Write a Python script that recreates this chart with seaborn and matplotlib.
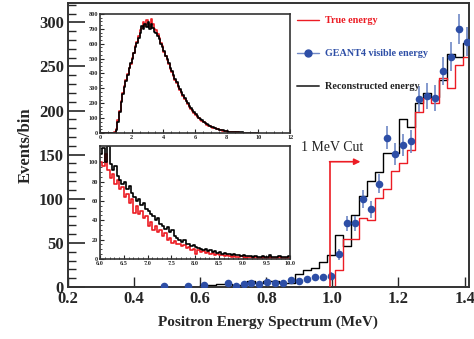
import numpy as np
import matplotlib.pyplot as plt
import seaborn as sns
from matplotlib.lines import Line2D
from matplotlib.ticker import MultipleLocator, FormatStrFormatter

sns.set_style("ticks")
plt.rcParams["font.family"] = ["Liberation Serif", "DejaVu Serif"]
plt.rcParams["font.weight"] = "bold"
plt.rcParams["axes.labelweight"] = "bold"

RED = "#ec1c24"
BLUE = "#2d4ea6"
BLUE_ERR = "#7089c6"

# ---- main spectrum, bins of ~0.024 MeV (first 12 bins below 0.478 are empty)
bin_start = 0.1888
bin_width = 0.0241
n_empty = 12

true_energy = [0, 0, 0, 0, 0, 0, 0, 0, 0, 0, 0, 0, 0, 0, 0, 0, 0, 0, 0, 0,
               0, 0, 19, 54, 54, 78, 76, 101, 111, 131, 141, 155, 198, 214,
               208, 237, 226, 252, 261]
reco_energy = [0, 0, 0, 0, 0, 2, 2, 3, 3, 2, 2, 7, 4, 7, 7, 4, 4, 15, 19, 22,
               28, 36, 59, 47, 82, 103, 120, 130, 152, 152, 190, 181, 209, 220,
               215, 235, 264, 261, 277]
geant4 = [1, np.nan, np.nan, 1, np.nan, 2, np.nan, np.nan, 5, 1, 3, 4, 3, 6,
          5, 5, 8, 7, 9, 11, 11, 13, 37, 72, 72, 100, 88, 117, 169, 151, 161,
          165, 213, 217, 214, 245, 261, 292, 278]
geant4_err = [1, 0, 0, 1, 0, 1.4, 0, 0, 2.2, 1, 1.7, 2, 1.7, 2.4, 2.2, 2.2,
              2.8, 2.6, 3, 3.3, 3.3, 3.6, 6, 8.5, 8.5, 10, 9.4, 10.8, 13, 12.3,
              12.7, 12.8, 14.6, 14.7, 14.6, 15.7, 16.2, 17.1, 16.7]

# ---- inset 1: full spectrum 0-12 MeV, 0.1 MeV bins
full_true = [0, 0, 0, 0, 0, 0, 0, 0, 0, 4, 25, 85, 150, 215, 270, 315, 355,
             395, 440, 465, 505, 540, 585, 610, 655, 690, 705, 745, 720, 760,
             735, 715, 765, 730, 700, 690, 665, 640, 605, 585, 545, 520, 490,
             465, 430, 410, 380, 355, 335, 310, 290, 270, 250, 230, 212, 195,
             178, 163, 148, 135, 122, 110, 100, 90, 80, 72, 64, 57, 50, 45, 40,
             35, 31, 27, 24, 21, 18, 16, 14, 12, 10, 9, 8, 7, 6, 5, 4, 4, 3, 3,
             2, 2, 2, 2, 1, 1, 1, 1, 1, 1]
full_reco = [0, 0, 0, 0, 0, 0, 0, 0, 0, 2, 18, 75, 140, 210, 265, 310, 350,
             390, 435, 470, 500, 535, 575, 605, 640, 675, 720, 700, 735, 715,
             745, 700, 735, 705, 680, 675, 655, 630, 600, 580, 550, 520, 495,
             470, 440, 415, 390, 362, 340, 318, 296, 276, 256, 236, 218, 200,
             184, 168, 153, 140, 127, 115, 104, 94, 85, 76, 68, 61, 54, 48, 43,
             38, 34, 30, 26, 23, 20, 18, 16, 14, 12, 10, 9, 8, 7, 6, 5, 5, 4, 4,
             3, 3, 2, 2, 2, 2, 1, 1, 1, 1]

# ---- inset 2: tail 6-10 MeV, 0.05 MeV bins
tail_true = [100, 96, 108, 92, 84, 88, 78, 82, 72, 74, 64, 67, 58, 62, 48, 55,
             46, 50, 42, 44, 34, 38, 30, 34, 28, 30, 24, 27, 20, 22, 17, 19, 15,
             16, 13, 14, 11, 12, 9, 10, 5, 9, 7, 8, 6, 7, 5, 6, 4, 5, 4, 4, 3, 4,
             3, 2, 3, 2, 2, 3, 2, 1, 2, 2, 1, 2, 1, 1, 2, 1, 1, 2, 1, 1, 1, 2, 1,
             1, 1, 2]
tail_reco = [108, 115, 100, 117, 98, 92, 96, 86, 82, 78, 80, 72, 75, 68, 64, 60,
             62, 56, 58, 52, 50, 46, 44, 40, 42, 36, 34, 31, 33, 28, 30, 24, 22,
             20, 18, 20, 15, 16, 13, 14, 12, 11, 10, 9, 10, 8, 9, 7, 8, 6, 7, 5,
             6, 5, 5, 4, 5, 4, 4, 3, 4, 3, 3, 3, 2, 3, 2, 2, 3, 2, 2, 4, 2, 2, 2,
             3, 2, 2, 2, 3]


def step_hist(ax, values, start, width, color, lw=1.0):
    values = np.asarray(values, dtype=float)
    edges = start + width * np.arange(len(values) + 1)
    centers = 0.5 * (edges[:-1] + edges[1:])
    sns.histplot(x=centers, weights=values, bins=list(edges), element="step",
                 fill=False, color=color, linewidth=lw, ax=ax)


fig = plt.figure(figsize=(4.74, 3.39), dpi=100)
ax = fig.add_axes([0.1435, 0.1534, 0.845, 0.838])

pad = np.zeros(n_empty)
step_hist(ax, np.r_[pad, reco_energy], bin_start, bin_width, "black")
step_hist(ax, np.r_[pad, true_energy], bin_start, bin_width, RED)

g_centers = bin_start + bin_width * (n_empty + np.arange(len(geant4)) + 0.5)
ax.errorbar(g_centers, geant4, yerr=geant4_err, fmt="none",
            ecolor=BLUE_ERR, elinewidth=1.2, zorder=4)
sns.scatterplot(x=g_centers, y=geant4, color=BLUE, s=30, edgecolor=BLUE,
                linewidth=0, zorder=5, ax=ax)

# 1 MeV cut marker
ax.plot([0.992, 0.992], [0, 142], color=RED, lw=1.2, zorder=6)
ax.annotate("", xy=(1.085, 142), xytext=(0.9915, 142),
            arrowprops=dict(arrowstyle="-|>", color=RED, lw=1.2,
                            mutation_scale=9, shrinkA=0, shrinkB=0))
ax.text(0.905, 158, "1 MeV Cut", fontsize=10, fontweight="normal",
        ha="left", va="center", color="#222222")

ax.set_xlim(0.2, 1.412)
ax.set_ylim(0, 322)
ax.xaxis.set_major_locator(MultipleLocator(0.2))
ax.xaxis.set_major_formatter(FormatStrFormatter("%.1f"))
ax.yaxis.set_major_locator(MultipleLocator(50))
ax.yaxis.set_minor_locator(MultipleLocator(10))
ax.tick_params(axis="both", which="major", direction="in", labelsize=12)
ax.tick_params(axis="y", which="major", length=12, width=1.2, pad=3)
ax.tick_params(axis="y", which="minor", direction="in", length=6, width=1)
ax.tick_params(axis="x", which="major", length=7, width=1, pad=3)
for s in ax.spines.values():
    s.set_linewidth(1.4)
    s.set_color("#333333")
ax.set_xlabel("Positron Energy Spectrum (MeV)", fontsize=11, labelpad=6)
ax.set_ylabel("Events/bin", fontsize=12, labelpad=4)

handles = [
    Line2D([], [], color=RED, lw=1),
    Line2D([], [], color=BLUE_ERR, lw=1, marker="o", ms=5,
           markerfacecolor=BLUE, markeredgecolor=BLUE),
    Line2D([], [], color="#444444", lw=1.4),
]
labels = ["True energy", "GEANT4 visible energy", "Reconstructed energy"]
ax.legend(handles, labels, loc="upper left", bbox_to_anchor=(0.548, 0.985),
          frameon=False, fontsize=7.3, handlelength=2.2, handletextpad=0.6,
          labelspacing=2.35, labelcolor=[RED, BLUE, "#222222"])

# ---- inset 1
ax1 = fig.add_axes([0.211, 0.6077, 0.401, 0.351])
step_hist(ax1, full_true, 0.0, 0.1, RED, lw=1.2)
step_hist(ax1, full_reco, 0.0, 0.1, "black", lw=1.2)
ax1.set_xlim(0, 12)
ax1.set_ylim(0, 800)
ax1.xaxis.set_major_locator(MultipleLocator(2))
ax1.xaxis.set_minor_locator(MultipleLocator(0.5))
ax1.yaxis.set_major_locator(MultipleLocator(100))
ax1.yaxis.set_minor_locator(MultipleLocator(25))

# ---- inset 2
ax2 = fig.add_axes([0.211, 0.236, 0.401, 0.334])
step_hist(ax2, tail_true, 6.0, 0.05, RED, lw=1.2)
step_hist(ax2, tail_reco, 6.0, 0.05, "black", lw=1.2)
ax2.set_xlim(6.0, 10.0)
ax2.set_ylim(0, 117)
ax2.xaxis.set_major_locator(MultipleLocator(0.5))
ax2.xaxis.set_major_formatter(FormatStrFormatter("%.1f"))
ax2.xaxis.set_minor_locator(MultipleLocator(0.1))
ax2.yaxis.set_major_locator(MultipleLocator(20))
ax2.yaxis.set_minor_locator(MultipleLocator(5))

for a in (ax1, ax2):
    a.set_xlabel("")
    a.set_ylabel("")
    a.set_facecolor("white")
    a.tick_params(axis="both", which="major", direction="in", labelsize=4.5,
                  length=3, width=0.8, pad=1.5)
    a.tick_params(axis="both", which="minor", direction="in", length=1.5,
                  width=0.6)
    for s in a.spines.values():
        s.set_linewidth(1.2)
        s.set_color("#333333")

fig.savefig("out.png", dpi=100)
